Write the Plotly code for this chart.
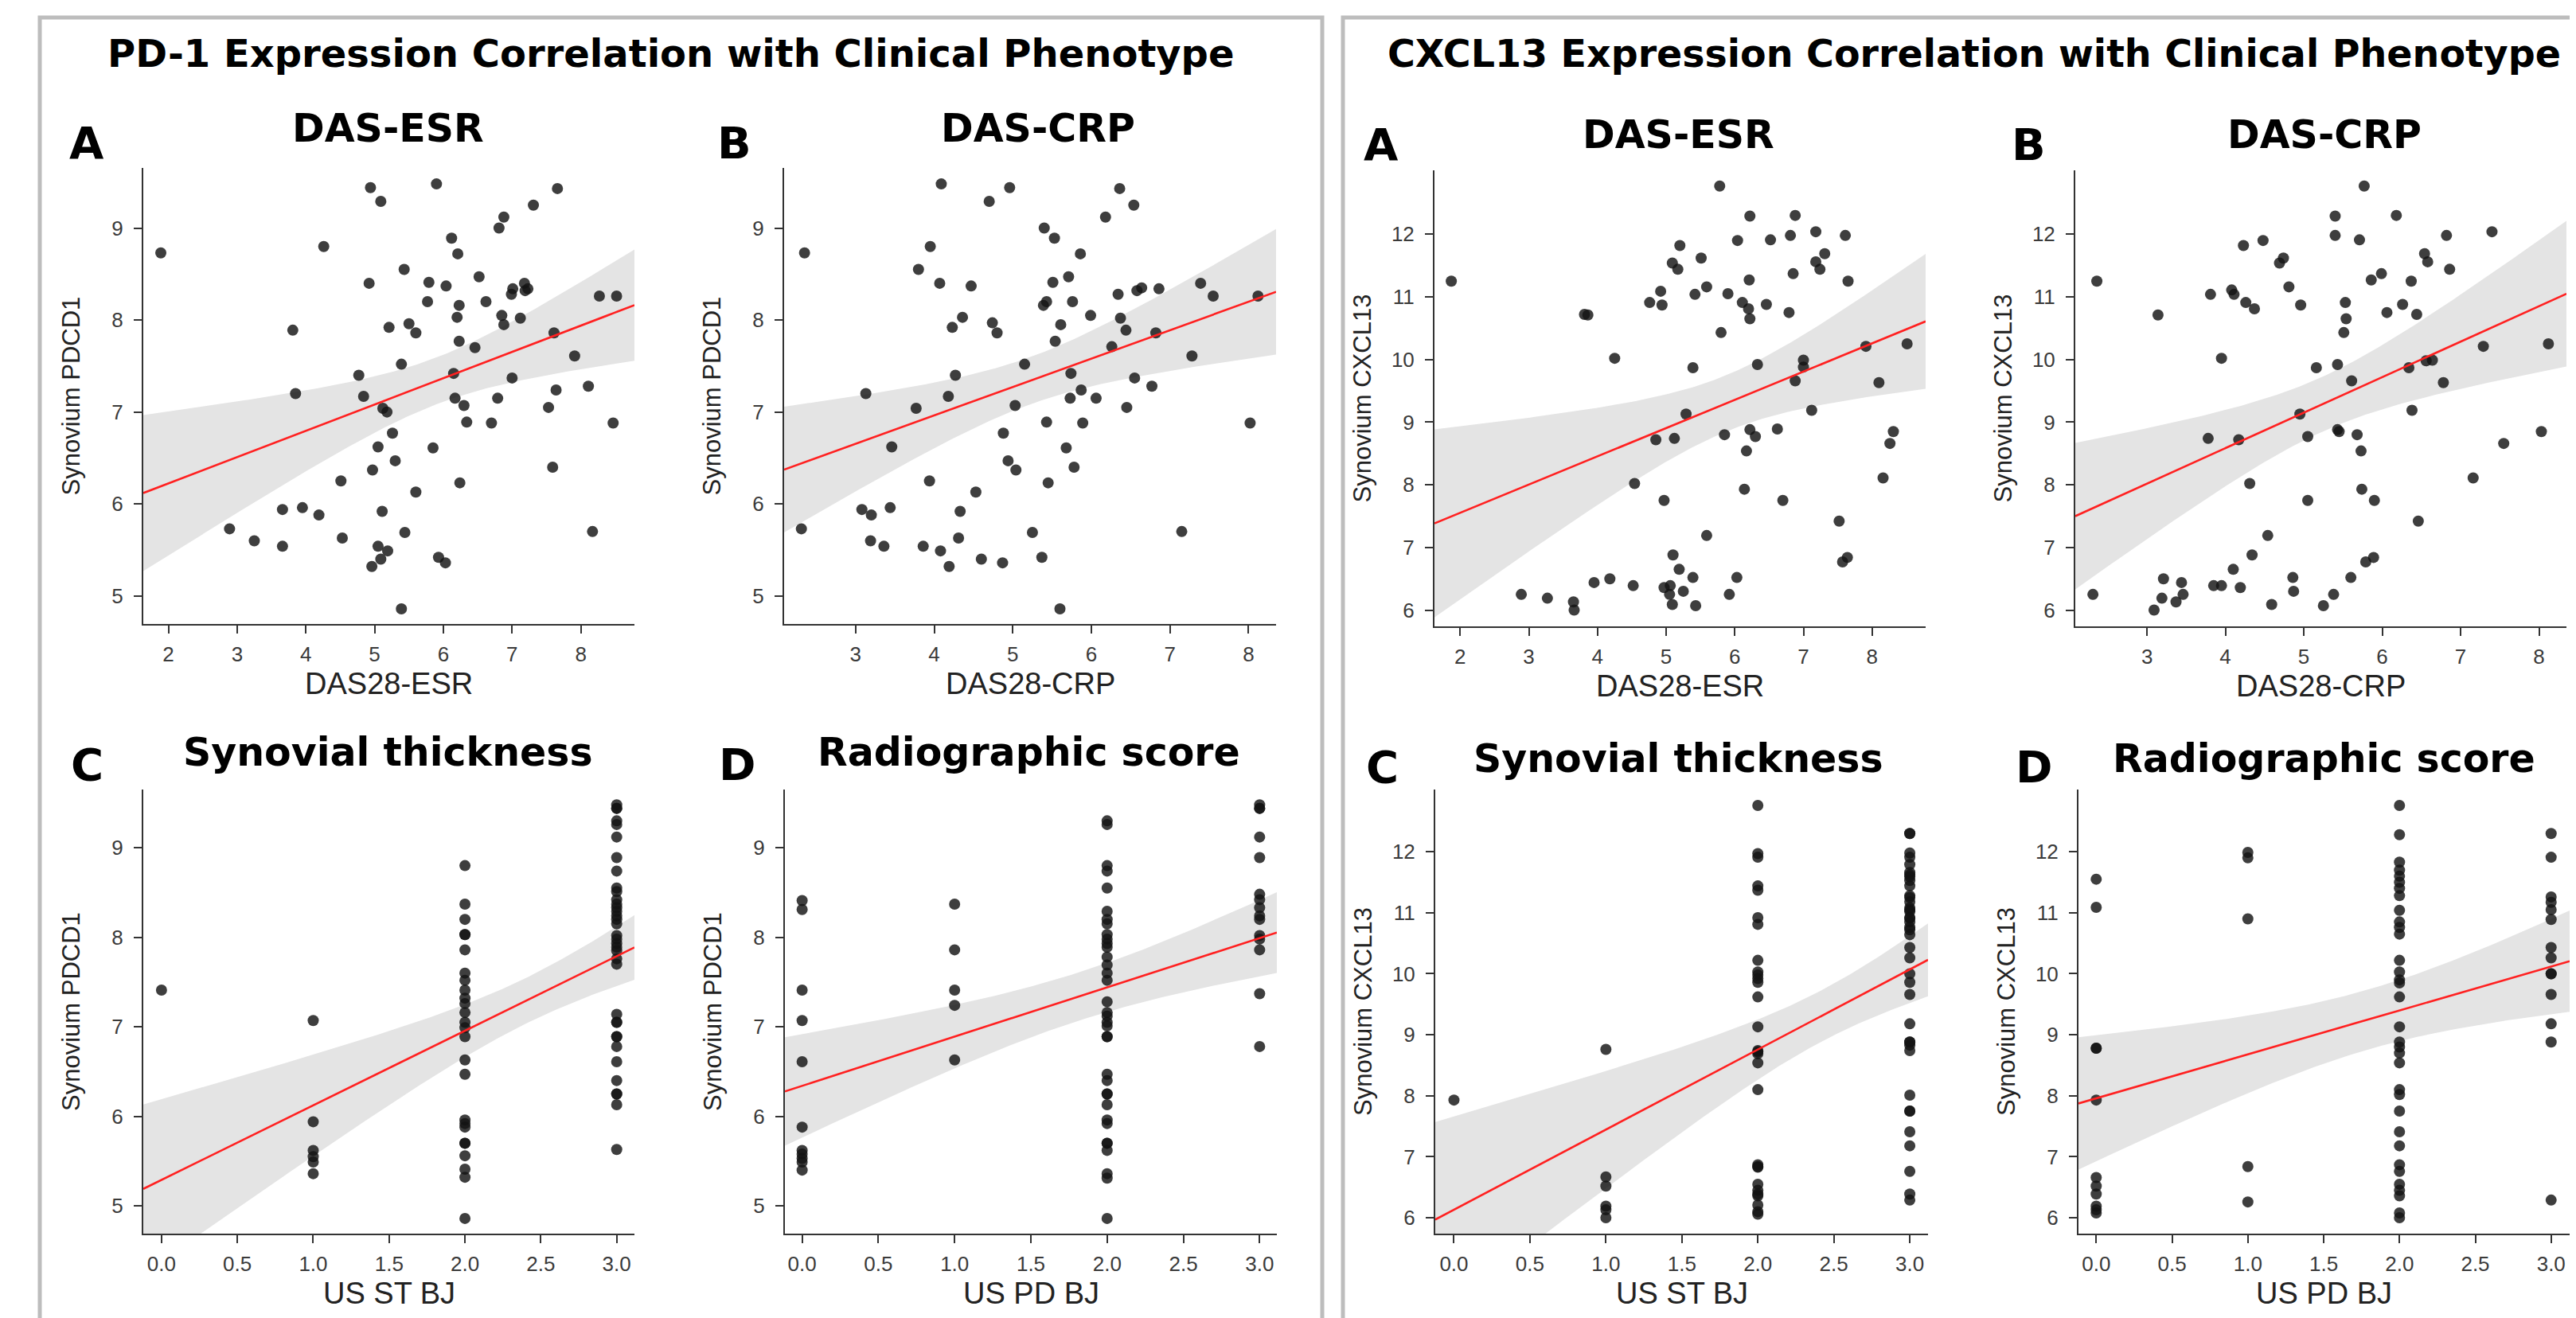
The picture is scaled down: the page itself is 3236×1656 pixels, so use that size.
import numpy as np
import plotly.graph_objects as go

W, H = 3236, 1656

# ---------------- data ----------------
# PD-1 (Synovium PDCD1) vs DAS28-ESR
pd1_esr_x = [1.89, 4.94, 5.09, 5.90, 7.66, 7.31, 6.88, 6.81, 6.12, 4.26,
             6.21, 5.43, 4.92, 5.79, 6.04, 6.52, 7.01, 7.18, 7.23, 7.19,
             6.99, 5.77, 6.23, 6.62, 8.27, 8.52, 6.20, 6.85, 6.88, 7.12,
             3.81, 5.21, 5.50, 5.60, 6.23, 6.46, 7.61, 7.91, 5.39, 4.77,
             6.15, 7.00, 3.85, 4.84, 6.17, 6.79, 7.64, 8.11, 5.12, 5.18,
             6.30, 7.53, 6.34, 6.70, 8.47, 5.26, 5.05, 5.85, 5.30, 4.97,
             7.59, 4.51, 6.24, 5.60, 3.66, 3.95, 4.19, 5.11, 2.89, 3.25,
             3.66, 4.53, 5.44, 8.17, 5.05, 5.19, 5.09, 4.96, 5.93, 6.03,
             5.39]
pd1_esr_y = [8.73, 9.44, 9.29, 9.48, 9.43, 9.25, 9.12, 9.00, 8.89, 8.80,
             8.72, 8.55, 8.40, 8.41, 8.37, 8.47, 8.34, 8.40, 8.34, 8.32,
             8.28, 8.20, 8.16, 8.20, 8.26, 8.26, 8.03, 8.05, 7.95, 8.02,
             7.89, 7.92, 7.96, 7.86, 7.77, 7.70, 7.86, 7.61, 7.52, 7.40,
             7.42, 7.37, 7.20, 7.17, 7.15, 7.15, 7.24, 7.28, 7.04, 7.00,
             7.07, 7.05, 6.89, 6.88, 6.88, 6.77, 6.62, 6.61, 6.47, 6.37,
             6.40, 6.25, 6.23, 6.13, 5.94, 5.96, 5.88, 5.92, 5.73, 5.60,
             5.54, 5.63, 5.69, 5.70, 5.54, 5.49, 5.40, 5.32, 5.42, 5.36,
             4.86]

# PD-1 vs DAS28-CRP
pd1_crp_x = [2.35, 4.09, 4.96, 4.70, 6.36, 6.54, 6.18, 5.40, 5.53, 3.95,
             5.86, 3.80, 4.07, 5.51, 4.47, 5.71, 6.64, 7.39, 6.58, 6.86,
             6.34, 5.76, 5.39, 5.43, 7.55, 8.12, 4.36, 5.99, 6.37, 5.61,
             4.74, 4.23, 4.80, 5.54, 6.44, 6.82, 6.26, 7.28, 5.15, 4.27,
             5.74, 6.55, 3.13, 4.18, 5.73, 6.06, 5.87, 6.77, 5.03, 3.77,
             6.45, 5.43, 5.89, 8.02, 4.88, 3.46, 5.68, 4.94, 5.04, 5.78,
             3.94, 5.45, 4.53, 3.08, 3.44, 3.20, 4.33, 2.31, 3.19, 3.36,
             4.31, 5.25, 7.15, 3.86, 4.08, 4.60, 4.19, 5.37, 4.87, 5.60]
pd1_crp_y = [8.73, 9.48, 9.44, 9.29, 9.43, 9.25, 9.12, 9.00, 8.89, 8.80,
             8.72, 8.55, 8.40, 8.41, 8.37, 8.47, 8.35, 8.40, 8.32, 8.34,
             8.28, 8.20, 8.16, 8.20, 8.26, 8.26, 8.03, 8.05, 8.02, 7.95,
             7.97, 7.92, 7.86, 7.77, 7.89, 7.86, 7.71, 7.61, 7.52, 7.40,
             7.42, 7.37, 7.20, 7.17, 7.15, 7.15, 7.24, 7.28, 7.07, 7.04,
             7.05, 6.89, 6.88, 6.88, 6.77, 6.62, 6.61, 6.47, 6.37, 6.40,
             6.25, 6.23, 6.13, 5.94, 5.96, 5.88, 5.92, 5.73, 5.60, 5.54,
             5.63, 5.69, 5.70, 5.54, 5.49, 5.40, 5.32, 5.42, 5.36, 4.86]

# PD-1 vs US ST BJ (synovial thickness), grouped by score 0..3
pd1_st_y0 = [7.41]
pd1_st_y1 = [7.07, 5.94, 5.62, 5.55, 5.49, 5.36]
pd1_st_y2 = [8.80, 8.37, 8.20, 8.03, 8.03, 7.86, 7.60, 7.52, 7.41, 7.32,
             7.26, 7.16, 7.05, 6.99, 6.89, 6.63, 6.47, 5.96, 5.92, 5.88,
             5.70, 5.70, 5.56, 5.41, 5.32, 4.86]
pd1_st_y3 = [9.48, 9.44, 9.44, 9.30, 9.26, 9.12, 8.89, 8.74, 8.55, 8.51,
             8.42, 8.37, 8.33, 8.29, 8.24, 8.20, 8.15, 8.02, 7.98, 7.93,
             7.89, 7.85, 7.76, 7.70, 7.14, 7.05, 7.05, 6.89, 6.89, 6.78,
             6.61, 6.40, 6.25, 6.25, 6.13, 5.63]

# PD-1 vs US PD BJ (radiographic score)
pd1_pd_y0 = [8.41, 8.31, 7.41, 7.07, 6.61, 5.88, 5.62, 5.58, 5.53, 5.49, 5.40]
pd1_pd_y1 = [8.37, 7.86, 7.41, 7.24, 6.63]
pd1_pd_y2 = [9.30, 9.26, 8.80, 8.74, 8.55, 8.29, 8.20, 8.15, 8.03, 7.98,
             7.93, 7.89, 7.78, 7.69, 7.60, 7.52, 7.28, 7.16, 7.12, 7.05,
             7.01, 6.89, 6.89, 6.47, 6.40, 6.25, 6.25, 6.13, 5.96, 5.92,
             5.70, 5.70, 5.62, 5.36, 5.31, 4.86]
pd1_pd_y3 = [9.48, 9.44, 9.44, 9.12, 8.89, 8.48, 8.42, 8.33, 8.24, 8.20,
             8.02, 7.98, 7.86, 7.37, 6.78]

# CXCL13 vs DAS28-ESR
cx_esr_x = [1.87, 5.78, 6.22, 6.88, 7.18, 7.61, 6.81, 6.04, 6.52, 5.20,
            5.51, 7.31, 5.09, 5.17, 7.18, 7.24, 6.85, 6.21, 7.65, 5.59,
            4.92, 5.42, 5.90, 4.76, 4.94, 6.11, 6.20, 6.22, 6.46, 6.79,
            3.81, 3.86, 5.80, 4.25, 5.39, 6.33, 7.00, 7.00, 6.88, 7.91,
            8.51, 8.10, 5.29, 7.12, 4.85, 5.12, 5.85, 6.22, 6.30, 6.62,
            6.17, 8.31, 8.26, 4.54, 8.16, 6.14, 4.97, 6.70, 7.52, 5.59,
            5.10, 7.64, 7.57, 5.19, 6.03, 5.39, 4.18, 3.95, 4.52, 4.97,
            5.06, 5.05, 5.25, 5.92, 2.89, 3.27, 3.65, 3.66, 5.09, 5.43]
cx_esr_y = [11.25, 12.77, 12.29, 12.30, 12.04, 11.98, 11.98, 11.90, 11.91, 11.82,
            11.62, 11.69, 11.54, 11.44, 11.56, 11.44, 11.37, 11.27, 11.25, 11.16,
            11.09, 11.04, 11.05, 10.91, 10.87, 10.91, 10.81, 10.65, 10.88, 10.75,
            10.72, 10.71, 10.43, 10.02, 9.87, 9.92, 9.99, 9.88, 9.66, 10.21,
            10.25, 9.63, 9.13, 9.19, 8.72, 8.74, 8.80, 8.88, 8.77, 8.89,
            8.54, 8.85, 8.66, 8.02, 8.11, 7.93, 7.75, 7.75, 7.42, 7.19,
            6.88, 6.84, 6.77, 6.65, 6.52, 6.52, 6.50, 6.44, 6.39, 6.36,
            6.39, 6.25, 6.30, 6.25, 6.25, 6.19, 6.13, 6.00, 6.09, 6.07]

# CXCL13 vs DAS28-CRP
cx_crp_x = [2.36, 5.77, 5.40, 6.18, 7.40, 5.40, 6.82, 4.48, 5.71, 4.23,
            4.74, 6.54, 4.69, 6.58, 6.86, 5.99, 5.86, 6.37, 4.81, 4.08,
            4.11, 3.81, 4.26, 4.37, 4.96, 5.53, 6.26, 6.06, 5.54, 6.44,
            3.14, 5.51, 3.95, 5.16, 5.43, 6.56, 6.64, 6.34, 5.61, 7.29,
            8.12, 6.78, 4.95, 6.38, 3.78, 4.17, 5.68, 5.43, 5.45, 5.05,
            5.73, 8.03, 7.55, 4.31, 7.16, 5.74, 5.05, 5.90, 6.46, 4.54,
            4.34, 5.89, 5.79, 4.10, 5.60, 4.86, 3.21, 3.44, 3.85, 3.95,
            4.19, 4.87, 3.46, 5.38, 2.31, 3.19, 3.37, 3.09, 4.59, 5.25]
cx_crp_y = [11.25, 12.77, 12.29, 12.30, 12.04, 11.98, 11.98, 11.90, 11.91, 11.82,
            11.62, 11.69, 11.54, 11.56, 11.44, 11.37, 11.27, 11.25, 11.16, 11.11,
            11.04, 11.04, 10.91, 10.81, 10.87, 10.91, 10.88, 10.75, 10.65, 10.72,
            10.71, 10.43, 10.02, 9.87, 9.92, 9.98, 9.99, 9.87, 9.66, 10.21,
            10.25, 9.63, 9.13, 9.19, 8.74, 8.72, 8.80, 8.88, 8.85, 8.77,
            8.54, 8.85, 8.66, 8.02, 8.11, 7.93, 7.75, 7.75, 7.42, 7.19,
            6.88, 6.84, 6.77, 6.65, 6.52, 6.52, 6.50, 6.44, 6.39, 6.39,
            6.36, 6.30, 6.25, 6.25, 6.25, 6.19, 6.13, 6.00, 6.09, 6.07]

# CXCL13 vs US ST BJ (includes overlapping points in the dense columns)
cx_st_y0 = [7.93]
cx_st_y1 = [8.76, 6.67, 6.52, 6.19, 6.13, 6.00]
cx_st_y2 = [12.76, 11.97, 11.91, 11.44, 11.37, 10.92, 10.81, 10.22, 10.03, 9.98,
            9.92, 9.86, 9.62, 9.13, 8.74, 8.72, 8.69, 8.54, 8.10, 6.87,
            6.84, 6.83, 6.55, 6.45, 6.39, 6.36, 6.21, 6.10, 6.06]
cx_st_y3 = [12.30, 12.30, 11.98, 11.91, 11.79, 11.66, 11.62, 11.59, 11.53, 11.44,
            11.28, 11.25, 11.18, 11.08, 11.05, 11.02, 10.92, 10.91, 10.85, 10.76,
            10.72, 10.64, 10.43, 10.26, 10.00, 9.86, 9.66, 9.18, 8.88, 8.88,
            8.83, 8.74, 8.01, 7.75, 7.75, 7.41, 7.18, 6.76, 6.39, 6.29]

# CXCL13 vs US PD BJ
cx_pd_y0 = [11.55, 11.09, 8.78, 8.78, 7.93, 6.66, 6.52, 6.39, 6.19, 6.13, 6.08]
cx_pd_y1 = [11.99, 11.90, 10.90, 6.84, 6.26]
cx_pd_y2 = [12.76, 12.28, 11.83, 11.70, 11.60, 11.50, 11.40, 11.28, 11.04, 10.85,
            10.76, 10.65, 10.22, 10.03, 9.90, 9.85, 9.62, 9.13, 8.88, 8.80,
            8.70, 8.54, 8.10, 8.02, 7.75, 7.41, 7.18, 6.87, 6.76, 6.55,
            6.45, 6.36, 6.08, 6.00]
cx_pd_y3 = [12.30, 11.91, 11.26, 11.17, 11.05, 10.89, 10.43, 10.26, 10.00, 10.00,
            9.66, 9.18, 8.88, 6.29]

score_levels = [0, 1, 2, 3]

# ---------------- text ----------------
main_titles = ["PD-1 Expression Correlation with Clinical Phenotype",
               "CXCL13 Expression Correlation with Clinical Phenotype"]
sub_titles = ["DAS-ESR", "DAS-CRP", "Synovial thickness", "Radiographic score"]
letters = ["A", "B", "C", "D"]
x_titles = ["DAS28-ESR", "DAS28-CRP", "US ST BJ", "US PD BJ"]
y_titles = ["Synovium PDCD1", "Synovium CXCL13"]


def grouped(groups):
    xs, ys = [], []
    for lvl, g in zip(score_levels, groups):
        xs += [lvl] * len(g)
        ys += list(g)
    return xs, ys


pd1_st_x, pd1_st_yy = grouped([pd1_st_y0, pd1_st_y1, pd1_st_y2, pd1_st_y3])
pd1_pd_x, pd1_pd_yy = grouped([pd1_pd_y0, pd1_pd_y1, pd1_pd_y2, pd1_pd_y3])
cx_st_x, cx_st_yy = grouped([cx_st_y0, cx_st_y1, cx_st_y2, cx_st_y3])
cx_pd_x, cx_pd_yy = grouped([cx_pd_y0, cx_pd_y1, cx_pd_y2, cx_pd_y3])


def fit_band(x, y, lo, hi):
    n = min(len(x), len(y))
    x = np.asarray(x[:n], float)
    y = np.asarray(y[:n], float)
    b, a = np.polyfit(x, y, 1)
    xs = np.linspace(lo, hi, 150)
    yhat = a + b * xs
    s = np.sqrt(np.sum((y - (a + b * x)) ** 2) / (n - 2))
    xm = x.mean()
    sxx = np.sum((x - xm) ** 2)
    se = s * np.sqrt(1.0 / n + (xs - xm) ** 2 / sxx)
    t = 1.99
    return xs, yhat, yhat - t * se, yhat + t * se


# pixel layout of each plotting rectangle: (left, right, top, bottom)
panels = [
    dict(x=pd1_esr_x, y=pd1_esr_y, box=(172, 789, 203, 776), xr=(1.635, 8.78), yr=(4.695, 9.654),
         xt=[2, 3, 4, 5, 6, 7, 8], yt=[5, 6, 7, 8, 9], fmt="", k=0, side=0),
    dict(x=pd1_crp_x, y=pd1_crp_y, box=(977, 1595, 203, 776), xr=(2.09, 8.35), yr=(4.695, 9.654),
         xt=[3, 4, 5, 6, 7, 8], yt=[5, 6, 7, 8, 9], fmt="", k=1, side=0),
    dict(x=pd1_st_x, y=pd1_st_yy, box=(172, 789, 984, 1542), xr=(-0.12, 3.117), yr=(4.69, 9.65),
         xt=[0, 0.5, 1, 1.5, 2, 2.5, 3], yt=[5, 6, 7, 8, 9], fmt=".1f", k=2, side=0),
    dict(x=pd1_pd_x, y=pd1_pd_yy, box=(978, 1596, 984, 1542), xr=(-0.113, 3.113), yr=(4.69, 9.65),
         xt=[0, 0.5, 1, 1.5, 2, 2.5, 3], yt=[5, 6, 7, 8, 9], fmt=".1f", k=3, side=0),
    dict(x=cx_esr_x, y=cx_esr_y, box=(1794, 2411, 206, 779), xr=(1.625, 8.78), yr=(5.74, 13.02),
         xt=[2, 3, 4, 5, 6, 7, 8], yt=[6, 7, 8, 9, 10, 11, 12], fmt="", k=0, side=1),
    dict(x=cx_crp_x, y=cx_crp_y, box=(2599, 3216, 206, 779), xr=(2.085, 8.35), yr=(5.74, 13.02),
         xt=[3, 4, 5, 6, 7, 8], yt=[6, 7, 8, 9, 10, 11, 12], fmt="", k=1, side=1),
    dict(x=cx_st_x, y=cx_st_yy, box=(1795, 2414, 984, 1542), xr=(-0.123, 3.12), yr=(5.74, 13.02),
         xt=[0, 0.5, 1, 1.5, 2, 2.5, 3], yt=[6, 7, 8, 9, 10, 11, 12], fmt=".1f", k=2, side=1),
    dict(x=cx_pd_x, y=cx_pd_yy, box=(2603, 3220, 984, 1542), xr=(-0.117, 3.122), yr=(5.74, 13.02),
         xt=[0, 0.5, 1, 1.5, 2, 2.5, 3], yt=[6, 7, 8, 9, 10, 11, 12], fmt=".1f", k=3, side=1),
]

# title / letter positions in pixels
sub_pos = [[(480, 154), (1296, 154), (480, 938), (1284, 938)],
           [(2100, 162), (2912, 162), (2100, 945), (2911, 945)]]
letter_pos = [[(101, 171), (914, 171), (101, 952), (918, 952)],
              [(1727, 173), (2540, 173), (1729, 955), (2547, 955)]]


def fx(p):
    return p / W


def fy(p):
    return 1 - p / H


fig = go.Figure()
layout = dict(width=W, height=H, margin=dict(l=0, r=0, t=0, b=0),
              paper_bgcolor="white", plot_bgcolor="white", showlegend=False)
annotations = []

TICKFONT = dict(family="Liberation Sans, Arial, sans-serif", size=26, color="#3a3a3a")
TITLEFONT = "Liberation Sans, Arial, sans-serif"
BOLD = "DejaVu Sans, Verdana, sans-serif"

for i, p in enumerate(panels, start=1):
    xa = "x" if i == 1 else f"x{i}"
    ya = "y" if i == 1 else f"y{i}"
    l, r, t, b = p["box"]
    xs, yhat, lo, hi = fit_band(p["x"], p["y"], p["xr"][0], p["xr"][1])
    fig.add_trace(go.Scatter(x=list(xs) + list(xs[::-1]), y=list(hi) + list(lo[::-1]),
                             fill="toself", fillcolor="#e4e4e4", line=dict(width=0),
                             mode="lines", hoverinfo="skip", xaxis=xa, yaxis=ya))
    fig.add_trace(go.Scatter(x=p["x"], y=p["y"], mode="markers",
                             marker=dict(size=14, color="rgba(20,20,20,0.82)", line=dict(width=0)),
                             xaxis=xa, yaxis=ya))
    fig.add_trace(go.Scatter(x=xs, y=yhat, mode="lines", line=dict(color="#ff2020", width=2.6),
                             hoverinfo="skip", xaxis=xa, yaxis=ya))
    axcommon = dict(showline=True, linecolor="#333333", linewidth=2, ticks="outside", ticklen=10,
                    tickwidth=2, tickcolor="#333333", showgrid=False, zeroline=False,
                    tickfont=TICKFONT, fixedrange=True)
    layout["xaxis" if i == 1 else f"xaxis{i}"] = dict(
        domain=[fx(l), fx(r)], range=list(p["xr"]), anchor=ya, tickvals=p["xt"],
        tickformat=p["fmt"], ticklabelstandoff=4, **axcommon)
    layout["yaxis" if i == 1 else f"yaxis{i}"] = dict(
        domain=[fy(b), fy(t)], range=list(p["yr"]), anchor=xa, tickvals=p["yt"],
        ticklabelstandoff=8, **axcommon)
    # axis titles
    annotations.append(dict(text=x_titles[p["k"]], x=fx((l + r) / 2), y=fy(b + 75), xref="paper",
                            yref="paper", xanchor="center", yanchor="middle", showarrow=False,
                            font=dict(family=TITLEFONT, size=38, color="#222222")))
    annotations.append(dict(text=y_titles[p["side"]], x=fx(l - 91), y=fy((t + b) / 2), xref="paper",
                            yref="paper", xanchor="center", yanchor="middle", showarrow=False,
                            textangle=-90, font=dict(family=TITLEFONT, size=31, color="#222222")))
    sx, sy = sub_pos[p["side"]][p["k"]]
    annotations.append(dict(text="<b>" + sub_titles[p["k"]] + "</b>", x=fx(sx), y=fy(sy),
                            xref="paper", yref="paper", xanchor="center", yanchor="middle",
                            showarrow=False, font=dict(family=BOLD, size=49, color="black")))
    lx, ly = letter_pos[p["side"]][p["k"]]
    annotations.append(dict(text="<b>" + letters[p["k"]] + "</b>", x=fx(lx), y=fy(ly),
                            xref="paper", yref="paper", xanchor="center", yanchor="middle",
                            showarrow=False, font=dict(family=BOLD, size=56, color="black")))

annotations.append(dict(text="<b>" + main_titles[0] + "</b>", x=fx(835), y=fy(59), xref="paper",
                        yref="paper", xanchor="center", yanchor="middle", showarrow=False,
                        font=dict(family=BOLD, size=48, color="black")))
annotations.append(dict(text="<b>" + main_titles[1] + "</b>", x=fx(1733), y=fy(59), xref="paper",
                        yref="paper", xanchor="left", yanchor="middle", showarrow=False,
                        font=dict(family=BOLD, size=47.5, color="black")))

shapes = [
    dict(type="rect", xref="paper", yref="paper", x0=fx(42), x1=fx(1653), y0=fy(1720), y1=fy(14),
         line=dict(color="#bdbdbd", width=5), fillcolor="rgba(0,0,0,0)", layer="below"),
    dict(type="rect", xref="paper", yref="paper", x0=fx(1679), x1=fx(3320), y0=fy(1720), y1=fy(14),
         line=dict(color="#bdbdbd", width=5), fillcolor="rgba(0,0,0,0)", layer="below"),
]

layout["annotations"] = annotations
layout["shapes"] = shapes
fig.update_layout(**layout)
fig.write_html("out.html")
